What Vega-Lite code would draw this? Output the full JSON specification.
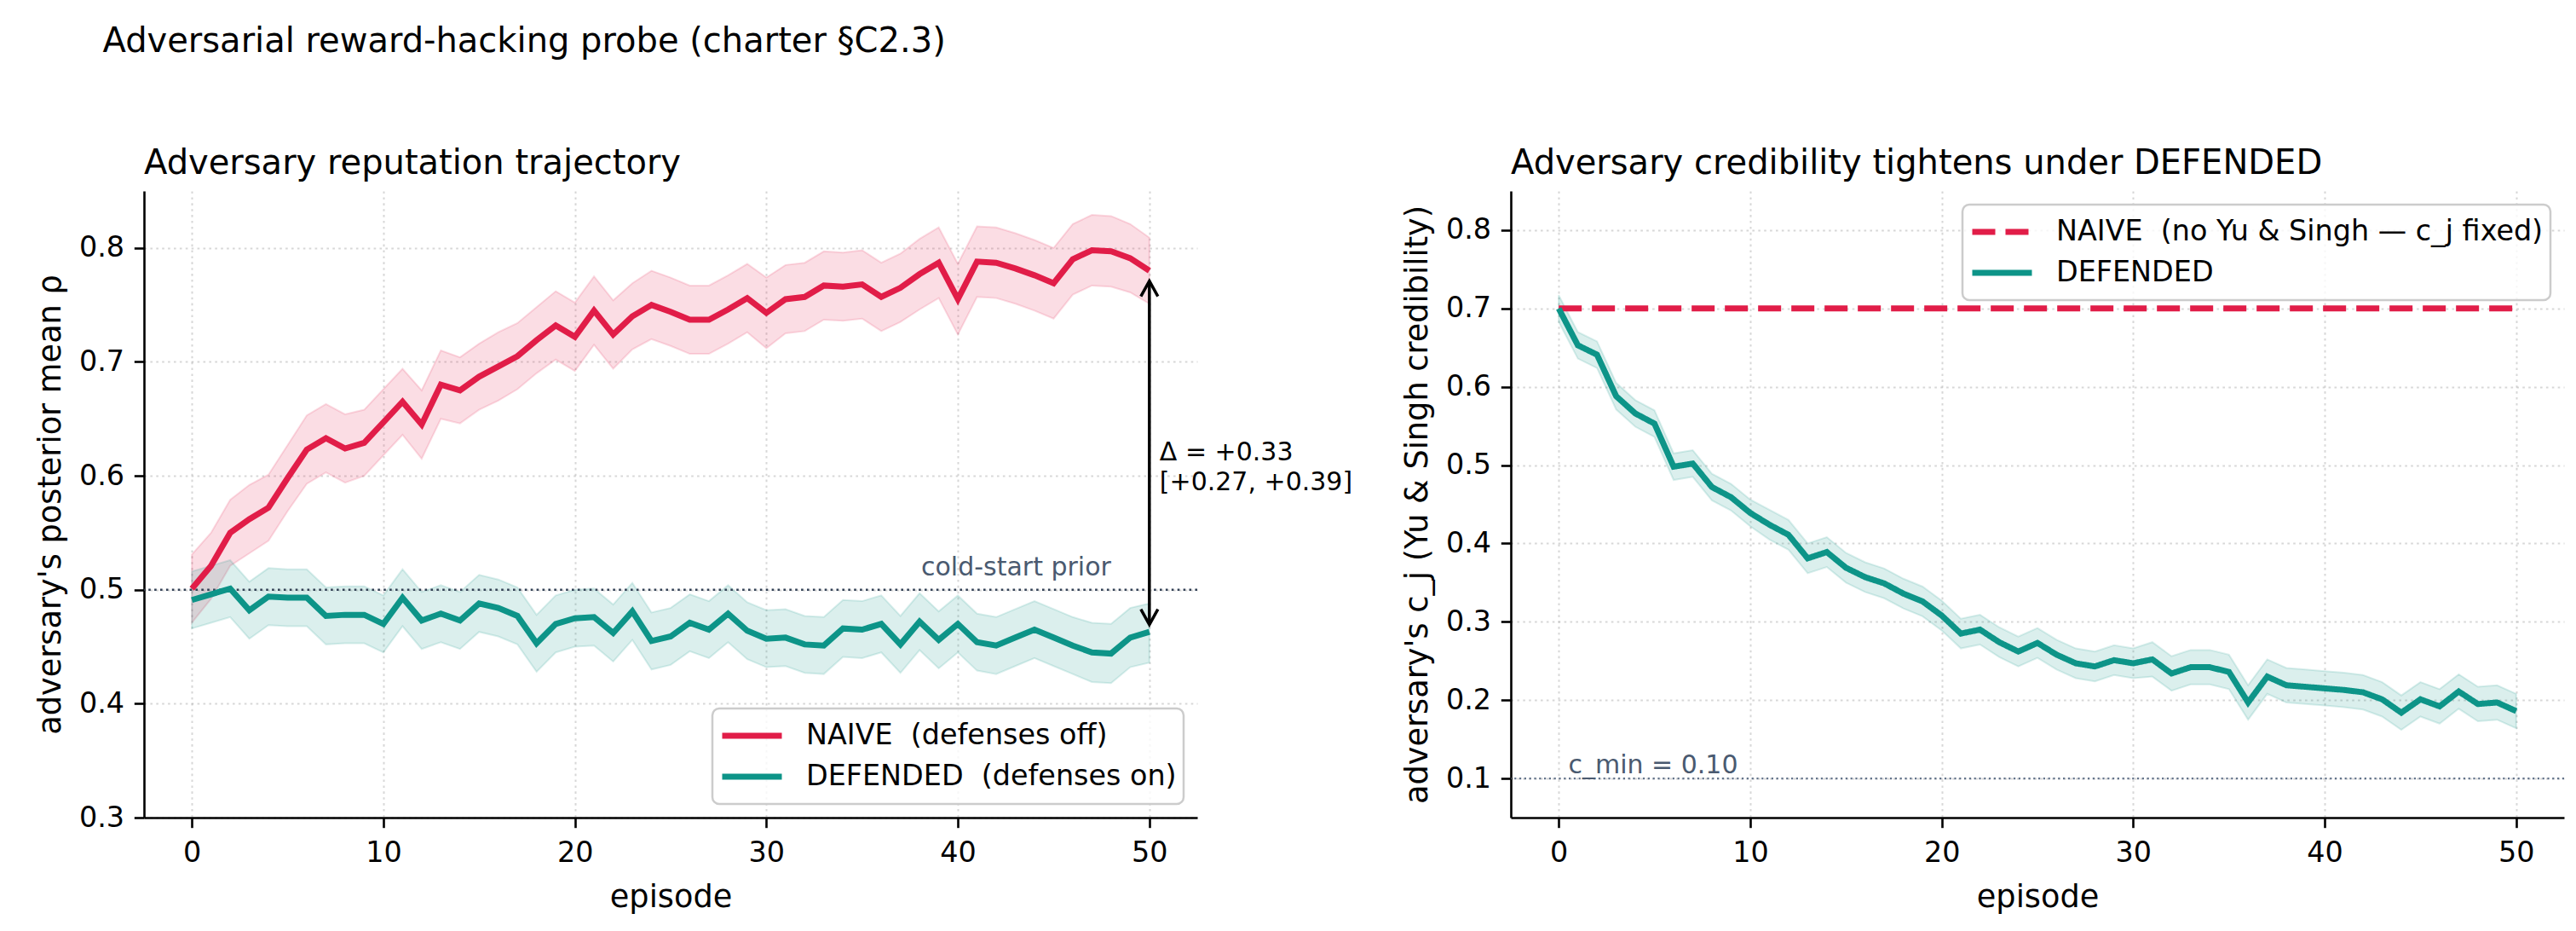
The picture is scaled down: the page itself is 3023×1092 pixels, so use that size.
{
"$schema":"https://vega.github.io/schema/vega-lite/v6.json",
"background":"white",
"padding":{"left":41,"top":29,"right":5,"bottom":5},
"bounds":"flush",
"spacing":368,
"title":{"text":"Adversarial reward-hacking probe (charter §C2.3)","anchor":"start","dx":79,"fontSize":40,"offset":71,"baseline":"alphabetic"},
"config":{
 "font":"DejaVu Sans",
 "view":{"stroke":null},
 "title":{"font":"DejaVu Sans","fontWeight":"normal","color":"#000000"},
 "axis":{"domainColor":"#000000","domainWidth":2.6,"tickColor":"#000000","tickWidth":2.6,"tickSize":11.7,"labelFont":"DejaVu Sans","labelFontSize":33.4,"labelColor":"#000000","labelPadding":11.7,"titleFont":"DejaVu Sans","titleFontSize":36.7,"titleFontWeight":"normal","titleColor":"#000000","grid":true,"gridColor":"#b0b0b0","gridOpacity":0.5,"gridWidth":2,"gridDash":[2.6,4.3]},
 "axisX":{"labelPadding":14,"titlePadding":17},
 "axisY":{"titlePadding":14},
 "legend":{"labelFont":"DejaVu Sans","labelFontSize":33.4,"labelColor":"#000000","labelLimit":1200,"symbolType":"stroke","symbolSize":4900,"symbolStrokeWidth":7,"labelOffset":25,"padding":8,"clipHeight":48,"rowPadding":0,"strokeColor":"#cccccc","strokeWidth":2.5,"cornerRadius":8,"fillColor":"rgba(255,255,255,0.8)","offset":16}
},
"resolve":{"scale":{"color":"independent","strokeDash":"independent"}},
"datasets":{
 "left":[
{"episode":0,"series":"NAIVE","mean":0.501,"lo":0.471,"hi":0.531},
{"episode":1,"series":"NAIVE","mean":0.521,"lo":0.492,"hi":0.550},
{"episode":2,"series":"NAIVE","mean":0.550,"lo":0.521,"hi":0.579},
{"episode":3,"series":"NAIVE","mean":0.562,"lo":0.532,"hi":0.592},
{"episode":4,"series":"NAIVE","mean":0.572,"lo":0.543,"hi":0.601},
{"episode":5,"series":"NAIVE","mean":0.598,"lo":0.569,"hi":0.627},
{"episode":6,"series":"NAIVE","mean":0.623,"lo":0.593,"hi":0.653},
{"episode":7,"series":"NAIVE","mean":0.633,"lo":0.603,"hi":0.663},
{"episode":8,"series":"NAIVE","mean":0.624,"lo":0.594,"hi":0.654},
{"episode":9,"series":"NAIVE","mean":0.629,"lo":0.600,"hi":0.658},
{"episode":10,"series":"NAIVE","mean":0.647,"lo":0.618,"hi":0.676},
{"episode":11,"series":"NAIVE","mean":0.665,"lo":0.636,"hi":0.694},
{"episode":12,"series":"NAIVE","mean":0.645,"lo":0.615,"hi":0.675},
{"episode":13,"series":"NAIVE","mean":0.680,"lo":0.650,"hi":0.710},
{"episode":14,"series":"NAIVE","mean":0.675,"lo":0.646,"hi":0.704},
{"episode":15,"series":"NAIVE","mean":0.687,"lo":0.658,"hi":0.716},
{"episode":16,"series":"NAIVE","mean":0.696,"lo":0.666,"hi":0.726},
{"episode":17,"series":"NAIVE","mean":0.705,"lo":0.676,"hi":0.734},
{"episode":18,"series":"NAIVE","mean":0.719,"lo":0.690,"hi":0.748},
{"episode":19,"series":"NAIVE","mean":0.732,"lo":0.702,"hi":0.762},
{"episode":20,"series":"NAIVE","mean":0.722,"lo":0.692,"hi":0.752},
{"episode":21,"series":"NAIVE","mean":0.745,"lo":0.715,"hi":0.775},
{"episode":22,"series":"NAIVE","mean":0.724,"lo":0.694,"hi":0.754},
{"episode":23,"series":"NAIVE","mean":0.740,"lo":0.711,"hi":0.769},
{"episode":24,"series":"NAIVE","mean":0.750,"lo":0.720,"hi":0.780},
{"episode":25,"series":"NAIVE","mean":0.744,"lo":0.714,"hi":0.774},
{"episode":26,"series":"NAIVE","mean":0.737,"lo":0.707,"hi":0.767},
{"episode":27,"series":"NAIVE","mean":0.737,"lo":0.707,"hi":0.767},
{"episode":28,"series":"NAIVE","mean":0.746,"lo":0.716,"hi":0.776},
{"episode":29,"series":"NAIVE","mean":0.756,"lo":0.726,"hi":0.786},
{"episode":30,"series":"NAIVE","mean":0.743,"lo":0.712,"hi":0.774},
{"episode":31,"series":"NAIVE","mean":0.755,"lo":0.725,"hi":0.785},
{"episode":32,"series":"NAIVE","mean":0.757,"lo":0.727,"hi":0.787},
{"episode":33,"series":"NAIVE","mean":0.767,"lo":0.737,"hi":0.797},
{"episode":34,"series":"NAIVE","mean":0.766,"lo":0.736,"hi":0.796},
{"episode":35,"series":"NAIVE","mean":0.768,"lo":0.738,"hi":0.798},
{"episode":36,"series":"NAIVE","mean":0.757,"lo":0.727,"hi":0.787},
{"episode":37,"series":"NAIVE","mean":0.765,"lo":0.735,"hi":0.795},
{"episode":38,"series":"NAIVE","mean":0.777,"lo":0.746,"hi":0.808},
{"episode":39,"series":"NAIVE","mean":0.787,"lo":0.756,"hi":0.818},
{"episode":40,"series":"NAIVE","mean":0.755,"lo":0.724,"hi":0.786},
{"episode":41,"series":"NAIVE","mean":0.788,"lo":0.757,"hi":0.819},
{"episode":42,"series":"NAIVE","mean":0.787,"lo":0.756,"hi":0.818},
{"episode":43,"series":"NAIVE","mean":0.782,"lo":0.751,"hi":0.813},
{"episode":44,"series":"NAIVE","mean":0.776,"lo":0.745,"hi":0.807},
{"episode":45,"series":"NAIVE","mean":0.769,"lo":0.738,"hi":0.800},
{"episode":46,"series":"NAIVE","mean":0.790,"lo":0.759,"hi":0.821},
{"episode":47,"series":"NAIVE","mean":0.798,"lo":0.767,"hi":0.829},
{"episode":48,"series":"NAIVE","mean":0.797,"lo":0.766,"hi":0.828},
{"episode":49,"series":"NAIVE","mean":0.791,"lo":0.761,"hi":0.821},
{"episode":50,"series":"NAIVE","mean":0.780,"lo":0.751,"hi":0.809},
{"episode":0,"series":"DEFENDED","mean":0.491,"lo":0.466,"hi":0.516},
{"episode":1,"series":"DEFENDED","mean":0.496,"lo":0.471,"hi":0.521},
{"episode":2,"series":"DEFENDED","mean":0.501,"lo":0.476,"hi":0.526},
{"episode":3,"series":"DEFENDED","mean":0.482,"lo":0.457,"hi":0.507},
{"episode":4,"series":"DEFENDED","mean":0.494,"lo":0.469,"hi":0.519},
{"episode":5,"series":"DEFENDED","mean":0.493,"lo":0.468,"hi":0.518},
{"episode":6,"series":"DEFENDED","mean":0.493,"lo":0.468,"hi":0.518},
{"episode":7,"series":"DEFENDED","mean":0.477,"lo":0.452,"hi":0.502},
{"episode":8,"series":"DEFENDED","mean":0.478,"lo":0.453,"hi":0.503},
{"episode":9,"series":"DEFENDED","mean":0.478,"lo":0.453,"hi":0.503},
{"episode":10,"series":"DEFENDED","mean":0.470,"lo":0.445,"hi":0.495},
{"episode":11,"series":"DEFENDED","mean":0.493,"lo":0.468,"hi":0.518},
{"episode":12,"series":"DEFENDED","mean":0.473,"lo":0.448,"hi":0.498},
{"episode":13,"series":"DEFENDED","mean":0.479,"lo":0.454,"hi":0.504},
{"episode":14,"series":"DEFENDED","mean":0.473,"lo":0.448,"hi":0.498},
{"episode":15,"series":"DEFENDED","mean":0.488,"lo":0.463,"hi":0.513},
{"episode":16,"series":"DEFENDED","mean":0.484,"lo":0.459,"hi":0.509},
{"episode":17,"series":"DEFENDED","mean":0.477,"lo":0.452,"hi":0.502},
{"episode":18,"series":"DEFENDED","mean":0.453,"lo":0.428,"hi":0.478},
{"episode":19,"series":"DEFENDED","mean":0.470,"lo":0.445,"hi":0.495},
{"episode":20,"series":"DEFENDED","mean":0.475,"lo":0.450,"hi":0.500},
{"episode":21,"series":"DEFENDED","mean":0.476,"lo":0.451,"hi":0.501},
{"episode":22,"series":"DEFENDED","mean":0.462,"lo":0.437,"hi":0.487},
{"episode":23,"series":"DEFENDED","mean":0.481,"lo":0.456,"hi":0.506},
{"episode":24,"series":"DEFENDED","mean":0.455,"lo":0.430,"hi":0.480},
{"episode":25,"series":"DEFENDED","mean":0.459,"lo":0.434,"hi":0.484},
{"episode":26,"series":"DEFENDED","mean":0.471,"lo":0.446,"hi":0.496},
{"episode":27,"series":"DEFENDED","mean":0.465,"lo":0.440,"hi":0.490},
{"episode":28,"series":"DEFENDED","mean":0.479,"lo":0.454,"hi":0.504},
{"episode":29,"series":"DEFENDED","mean":0.464,"lo":0.439,"hi":0.489},
{"episode":30,"series":"DEFENDED","mean":0.457,"lo":0.432,"hi":0.482},
{"episode":31,"series":"DEFENDED","mean":0.458,"lo":0.433,"hi":0.483},
{"episode":32,"series":"DEFENDED","mean":0.452,"lo":0.427,"hi":0.477},
{"episode":33,"series":"DEFENDED","mean":0.451,"lo":0.426,"hi":0.476},
{"episode":34,"series":"DEFENDED","mean":0.466,"lo":0.441,"hi":0.491},
{"episode":35,"series":"DEFENDED","mean":0.465,"lo":0.440,"hi":0.490},
{"episode":36,"series":"DEFENDED","mean":0.470,"lo":0.445,"hi":0.495},
{"episode":37,"series":"DEFENDED","mean":0.452,"lo":0.427,"hi":0.477},
{"episode":38,"series":"DEFENDED","mean":0.472,"lo":0.447,"hi":0.497},
{"episode":39,"series":"DEFENDED","mean":0.456,"lo":0.431,"hi":0.481},
{"episode":40,"series":"DEFENDED","mean":0.470,"lo":0.445,"hi":0.495},
{"episode":41,"series":"DEFENDED","mean":0.454,"lo":0.429,"hi":0.479},
{"episode":42,"series":"DEFENDED","mean":0.451,"lo":0.426,"hi":0.476},
{"episode":43,"series":"DEFENDED","mean":0.458,"lo":0.433,"hi":0.483},
{"episode":44,"series":"DEFENDED","mean":0.465,"lo":0.440,"hi":0.490},
{"episode":45,"series":"DEFENDED","mean":0.458,"lo":0.433,"hi":0.483},
{"episode":46,"series":"DEFENDED","mean":0.451,"lo":0.426,"hi":0.476},
{"episode":47,"series":"DEFENDED","mean":0.445,"lo":0.419,"hi":0.471},
{"episode":48,"series":"DEFENDED","mean":0.444,"lo":0.418,"hi":0.470},
{"episode":49,"series":"DEFENDED","mean":0.458,"lo":0.432,"hi":0.484},
{"episode":50,"series":"DEFENDED","mean":0.463,"lo":0.436,"hi":0.488}
 ],
 "right":[
{"episode":0,"series":"NAIVE","mean":0.7},{"episode":1,"series":"NAIVE","mean":0.7},{"episode":2,"series":"NAIVE","mean":0.7},{"episode":3,"series":"NAIVE","mean":0.7},{"episode":4,"series":"NAIVE","mean":0.7},{"episode":5,"series":"NAIVE","mean":0.7},{"episode":6,"series":"NAIVE","mean":0.7},{"episode":7,"series":"NAIVE","mean":0.7},{"episode":8,"series":"NAIVE","mean":0.7},{"episode":9,"series":"NAIVE","mean":0.7},{"episode":10,"series":"NAIVE","mean":0.7},
{"episode":11,"series":"NAIVE","mean":0.7},{"episode":12,"series":"NAIVE","mean":0.7},{"episode":13,"series":"NAIVE","mean":0.7},{"episode":14,"series":"NAIVE","mean":0.7},{"episode":15,"series":"NAIVE","mean":0.7},{"episode":16,"series":"NAIVE","mean":0.7},{"episode":17,"series":"NAIVE","mean":0.7},{"episode":18,"series":"NAIVE","mean":0.7},{"episode":19,"series":"NAIVE","mean":0.7},{"episode":20,"series":"NAIVE","mean":0.7},
{"episode":21,"series":"NAIVE","mean":0.7},{"episode":22,"series":"NAIVE","mean":0.7},{"episode":23,"series":"NAIVE","mean":0.7},{"episode":24,"series":"NAIVE","mean":0.7},{"episode":25,"series":"NAIVE","mean":0.7},{"episode":26,"series":"NAIVE","mean":0.7},{"episode":27,"series":"NAIVE","mean":0.7},{"episode":28,"series":"NAIVE","mean":0.7},{"episode":29,"series":"NAIVE","mean":0.7},{"episode":30,"series":"NAIVE","mean":0.7},
{"episode":31,"series":"NAIVE","mean":0.7},{"episode":32,"series":"NAIVE","mean":0.7},{"episode":33,"series":"NAIVE","mean":0.7},{"episode":34,"series":"NAIVE","mean":0.7},{"episode":35,"series":"NAIVE","mean":0.7},{"episode":36,"series":"NAIVE","mean":0.7},{"episode":37,"series":"NAIVE","mean":0.7},{"episode":38,"series":"NAIVE","mean":0.7},{"episode":39,"series":"NAIVE","mean":0.7},{"episode":40,"series":"NAIVE","mean":0.7},
{"episode":41,"series":"NAIVE","mean":0.7},{"episode":42,"series":"NAIVE","mean":0.7},{"episode":43,"series":"NAIVE","mean":0.7},{"episode":44,"series":"NAIVE","mean":0.7},{"episode":45,"series":"NAIVE","mean":0.7},{"episode":46,"series":"NAIVE","mean":0.7},{"episode":47,"series":"NAIVE","mean":0.7},{"episode":48,"series":"NAIVE","mean":0.7},{"episode":49,"series":"NAIVE","mean":0.7},{"episode":50,"series":"NAIVE","mean":0.7},
{"episode":0,"series":"DEFENDED","mean":0.700,"lo":0.683,"hi":0.717},
{"episode":1,"series":"DEFENDED","mean":0.653,"lo":0.636,"hi":0.670},
{"episode":2,"series":"DEFENDED","mean":0.641,"lo":0.624,"hi":0.658},
{"episode":3,"series":"DEFENDED","mean":0.588,"lo":0.571,"hi":0.605},
{"episode":4,"series":"DEFENDED","mean":0.566,"lo":0.549,"hi":0.583},
{"episode":5,"series":"DEFENDED","mean":0.553,"lo":0.536,"hi":0.570},
{"episode":6,"series":"DEFENDED","mean":0.498,"lo":0.481,"hi":0.515},
{"episode":7,"series":"DEFENDED","mean":0.502,"lo":0.485,"hi":0.519},
{"episode":8,"series":"DEFENDED","mean":0.472,"lo":0.455,"hi":0.489},
{"episode":9,"series":"DEFENDED","mean":0.459,"lo":0.442,"hi":0.476},
{"episode":10,"series":"DEFENDED","mean":0.439,"lo":0.422,"hi":0.456},
{"episode":11,"series":"DEFENDED","mean":0.424,"lo":0.405,"hi":0.443},
{"episode":12,"series":"DEFENDED","mean":0.411,"lo":0.392,"hi":0.430},
{"episode":13,"series":"DEFENDED","mean":0.381,"lo":0.362,"hi":0.400},
{"episode":14,"series":"DEFENDED","mean":0.389,"lo":0.370,"hi":0.408},
{"episode":15,"series":"DEFENDED","mean":0.369,"lo":0.350,"hi":0.388},
{"episode":16,"series":"DEFENDED","mean":0.357,"lo":0.338,"hi":0.376},
{"episode":17,"series":"DEFENDED","mean":0.349,"lo":0.330,"hi":0.368},
{"episode":18,"series":"DEFENDED","mean":0.336,"lo":0.317,"hi":0.355},
{"episode":19,"series":"DEFENDED","mean":0.326,"lo":0.307,"hi":0.345},
{"episode":20,"series":"DEFENDED","mean":0.308,"lo":0.289,"hi":0.327},
{"episode":21,"series":"DEFENDED","mean":0.285,"lo":0.266,"hi":0.304},
{"episode":22,"series":"DEFENDED","mean":0.290,"lo":0.271,"hi":0.309},
{"episode":23,"series":"DEFENDED","mean":0.274,"lo":0.255,"hi":0.293},
{"episode":24,"series":"DEFENDED","mean":0.262,"lo":0.243,"hi":0.281},
{"episode":25,"series":"DEFENDED","mean":0.273,"lo":0.254,"hi":0.292},
{"episode":26,"series":"DEFENDED","mean":0.258,"lo":0.239,"hi":0.277},
{"episode":27,"series":"DEFENDED","mean":0.247,"lo":0.228,"hi":0.266},
{"episode":28,"series":"DEFENDED","mean":0.243,"lo":0.224,"hi":0.262},
{"episode":29,"series":"DEFENDED","mean":0.251,"lo":0.232,"hi":0.270},
{"episode":30,"series":"DEFENDED","mean":0.247,"lo":0.228,"hi":0.266},
{"episode":31,"series":"DEFENDED","mean":0.252,"lo":0.230,"hi":0.274},
{"episode":32,"series":"DEFENDED","mean":0.234,"lo":0.212,"hi":0.256},
{"episode":33,"series":"DEFENDED","mean":0.242,"lo":0.220,"hi":0.264},
{"episode":34,"series":"DEFENDED","mean":0.242,"lo":0.220,"hi":0.264},
{"episode":35,"series":"DEFENDED","mean":0.236,"lo":0.214,"hi":0.258},
{"episode":36,"series":"DEFENDED","mean":0.197,"lo":0.175,"hi":0.219},
{"episode":37,"series":"DEFENDED","mean":0.230,"lo":0.208,"hi":0.252},
{"episode":38,"series":"DEFENDED","mean":0.219,"lo":0.197,"hi":0.241},
{"episode":39,"series":"DEFENDED","mean":0.217,"lo":0.195,"hi":0.239},
{"episode":40,"series":"DEFENDED","mean":0.215,"lo":0.193,"hi":0.237},
{"episode":41,"series":"DEFENDED","mean":0.213,"lo":0.191,"hi":0.235},
{"episode":42,"series":"DEFENDED","mean":0.210,"lo":0.188,"hi":0.232},
{"episode":43,"series":"DEFENDED","mean":0.201,"lo":0.179,"hi":0.223},
{"episode":44,"series":"DEFENDED","mean":0.184,"lo":0.162,"hi":0.206},
{"episode":45,"series":"DEFENDED","mean":0.201,"lo":0.179,"hi":0.223},
{"episode":46,"series":"DEFENDED","mean":0.192,"lo":0.170,"hi":0.214},
{"episode":47,"series":"DEFENDED","mean":0.211,"lo":0.189,"hi":0.233},
{"episode":48,"series":"DEFENDED","mean":0.195,"lo":0.173,"hi":0.217},
{"episode":49,"series":"DEFENDED","mean":0.197,"lo":0.175,"hi":0.219},
{"episode":50,"series":"DEFENDED","mean":0.186,"lo":0.164,"hi":0.208}
 ],
 "arrow":[{"episode":50,"top":0.771,"bottom":0.4694}]
},
"hconcat":[
{
"width":1236,"height":735,
"title":{"text":"Adversary reputation trajectory","anchor":"start","frame":"group","fontSize":40,"offset":-20,"baseline":"alphabetic"},
"layer":[
 {"data":{"name":"left"},"transform":[{"filter":"datum.series === 'NAIVE'"}],
  "mark":{"type":"area","fill":"#e11d48","fillOpacity":0.15,"stroke":"#e11d48","strokeOpacity":0.15,"strokeWidth":2},
  "encoding":{
   "x":{"field":"episode","type":"quantitative","scale":{"domain":[-2.5,52.5],"nice":false,"zero":false},"axis":{"values":[0,10,20,30,40,50],"format":"d","title":"episode"}},
   "y":{"field":"lo","type":"quantitative","title":"adversary's posterior mean ρ","scale":{"domain":[0.3,0.85],"nice":false,"zero":false},"axis":{"values":[0.3,0.4,0.5,0.6,0.7,0.8],"format":".1f"}},
   "y2":{"field":"hi"}}},
 {"data":{"name":"left"},"transform":[{"filter":"datum.series === 'DEFENDED'"}],
  "mark":{"type":"area","fill":"#0d9488","fillOpacity":0.15,"stroke":"#0d9488","strokeOpacity":0.15,"strokeWidth":2},
  "encoding":{
   "x":{"field":"episode","type":"quantitative","title":"episode"},
   "y":{"field":"lo","type":"quantitative","title":"adversary's posterior mean ρ"},
   "y2":{"field":"hi"}}},
 {"data":{"values":[{}]},
  "mark":{"type":"rule","color":"#334155","strokeWidth":2.6,"strokeDash":[2.6,4.3]},
  "encoding":{"y":{"datum":0.5,"type":"quantitative"}}},
 {"data":{"name":"left"},
  "mark":{"type":"line","strokeWidth":7},
  "encoding":{
   "x":{"field":"episode","type":"quantitative","title":"episode"},
   "y":{"field":"mean","type":"quantitative","title":"adversary's posterior mean ρ"},
   "color":{"field":"series","type":"nominal","scale":{"domain":["NAIVE","DEFENDED"],"range":["#e11d48","#0d9488"]},
     "legend":{"title":null,"orient":"bottom-right","labelExpr":"datum.label === 'NAIVE' ? 'NAIVE\u00a0 (defenses off)' : 'DEFENDED\u00a0 (defenses on)'"}}}},
 {"data":{"values":[{}]},
  "mark":{"type":"text","text":"cold-start prior","align":"right","baseline":"alphabetic","dy":-17,"fontSize":30,"color":"#4a5a70"},
  "encoding":{"x":{"datum":48,"type":"quantitative"},"y":{"datum":0.5,"type":"quantitative"}}},
 {"data":{"name":"arrow"},
  "mark":{"type":"rule","color":"#000000","strokeWidth":3.5},
  "encoding":{"x":{"field":"episode","type":"quantitative","title":"episode"},"y":{"field":"top","type":"quantitative","title":"adversary's posterior mean ρ"},"y2":{"field":"bottom"}}},
 {"data":{"name":"arrow"},
  "mark":{"type":"point","shape":"M-1,1.8L0,0L1,1.8","size":400,"filled":false,"stroke":"#000000","strokeWidth":3.5,"opacity":1},
  "encoding":{"x":{"field":"episode","type":"quantitative","title":"episode"},"y":{"field":"top","type":"quantitative","title":"adversary's posterior mean ρ"}}},
 {"data":{"name":"arrow"},
  "mark":{"type":"point","shape":"M-1,-1.8L0,0L1,-1.8","size":400,"filled":false,"stroke":"#000000","strokeWidth":3.5,"opacity":1},
  "encoding":{"x":{"field":"episode","type":"quantitative","title":"episode"},"y":{"field":"bottom","type":"quantitative","title":"adversary's posterior mean ρ"}}},
 {"data":{"values":[{}]},
  "mark":{"type":"text","text":["Δ = +0.33","[+0.27, +0.39]"],"align":"left","baseline":"middle","dx":12,"fontSize":30,"lineHeight":35,"color":"#000000"},
  "encoding":{"x":{"datum":50,"type":"quantitative"},"y":{"datum":0.6205,"type":"quantitative"}}}
]
},
{
"width":1236,"height":735,
"title":{"text":"Adversary credibility tightens under DEFENDED","anchor":"start","frame":"group","fontSize":40,"offset":-20,"baseline":"alphabetic"},
"layer":[
 {"data":{"name":"right"},"transform":[{"filter":"datum.series === 'DEFENDED'"}],
  "mark":{"type":"area","fill":"#0d9488","fillOpacity":0.15,"stroke":"#0d9488","strokeOpacity":0.15,"strokeWidth":2},
  "encoding":{
   "x":{"field":"episode","type":"quantitative","scale":{"domain":[-2.5,52.5],"nice":false,"zero":false},"axis":{"values":[0,10,20,30,40,50],"format":"d","title":"episode"}},
   "y":{"field":"lo","type":"quantitative","title":"adversary's c_j (Yu & Singh credibility)","scale":{"domain":[0.05,0.85],"nice":false,"zero":false},"axis":{"values":[0.1,0.2,0.3,0.4,0.5,0.6,0.7,0.8],"format":".1f"}},
   "y2":{"field":"hi"}}},
 {"data":{"values":[{}]},
  "mark":{"type":"rule","color":"#64748b","strokeWidth":2.2,"strokeDash":[2.2,3.6]},
  "encoding":{"y":{"datum":0.1,"type":"quantitative"}}},
 {"data":{"name":"right"},
  "mark":{"type":"line","strokeWidth":7},
  "encoding":{
   "x":{"field":"episode","type":"quantitative","title":"episode"},
   "y":{"field":"mean","type":"quantitative","title":"adversary's c_j (Yu & Singh credibility)"},
   "color":{"field":"series","type":"nominal","scale":{"domain":["NAIVE","DEFENDED"],"range":["#e11d48","#0d9488"]},
     "legend":{"title":null,"orient":"top-right","labelExpr":"datum.label === 'NAIVE' ? 'NAIVE\u00a0 (no Yu & Singh — c_j fixed)' : 'DEFENDED'"}},
   "strokeDash":{"field":"series","type":"nominal","scale":{"domain":["NAIVE","DEFENDED"],"range":[[27,12],[1,0]]},
     "legend":{"title":null,"orient":"top-right","labelExpr":"datum.label === 'NAIVE' ? 'NAIVE\u00a0 (no Yu & Singh — c_j fixed)' : 'DEFENDED'"}}}},
 {"data":{"values":[{}]},
  "mark":{"type":"text","text":"c_min = 0.10","align":"left","baseline":"alphabetic","dy":-6,"fontSize":30,"color":"#4a5a70"},
  "encoding":{"x":{"datum":0.5,"type":"quantitative"},"y":{"datum":0.1,"type":"quantitative"}}}
]
}
]
}
